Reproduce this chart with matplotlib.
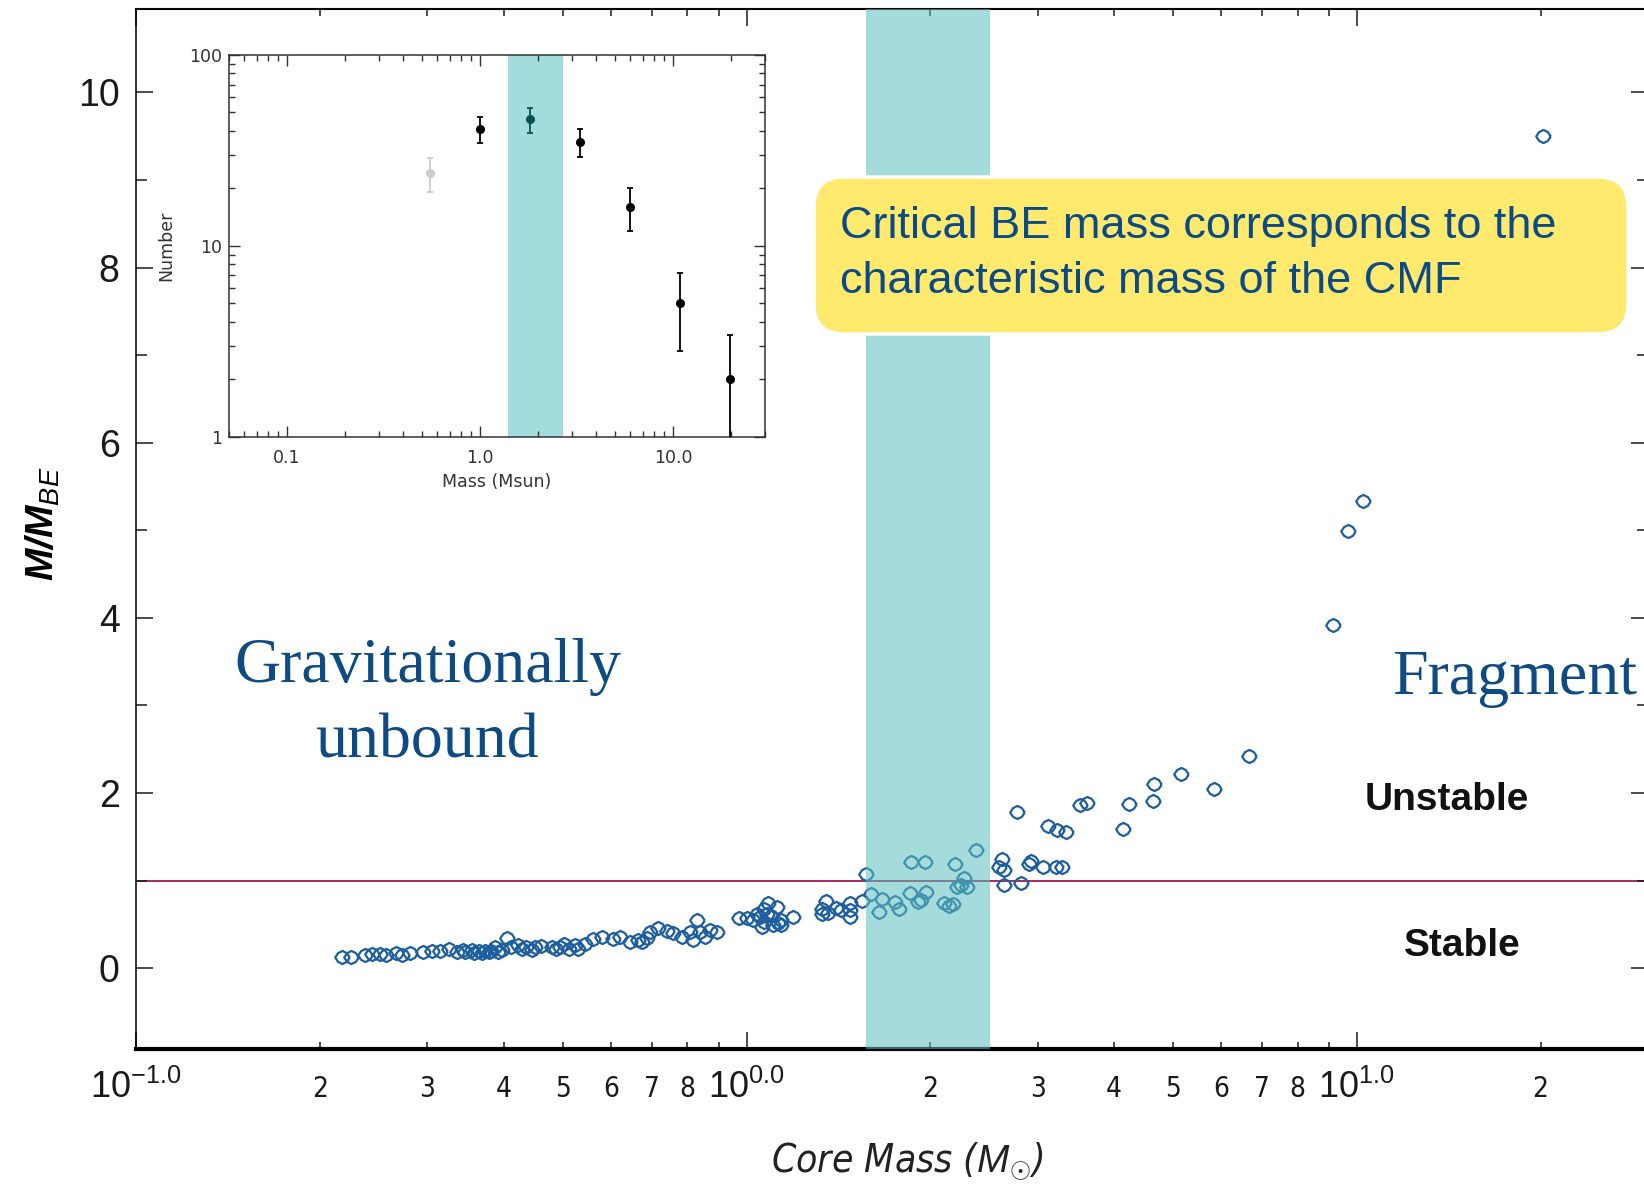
import matplotlib
matplotlib.use("Agg")
import matplotlib.pyplot as plt
from matplotlib.patches import FancyBboxPatch
from matplotlib.ticker import NullFormatter

plt.rcParams["font.family"] = "Liberation Sans"
plt.rcParams["mathtext.fontset"] = "custom"
plt.rcParams["mathtext.rm"] = "Liberation Sans"
plt.rcParams["mathtext.it"] = "Liberation Sans:italic"
plt.rcParams["mathtext.bf"] = "Liberation Sans:italic:bold"
plt.rcParams["mathtext.sf"] = "Liberation Sans:italic"

# core masses (Msun) and M/M_BE ratios
core_mass = [
    0.217, 0.225, 0.237, 0.243, 0.251, 0.257, 0.266, 0.273, 0.281, 0.295,
    0.305, 0.315, 0.325, 0.335, 0.343, 0.346, 0.355, 0.358, 0.364, 0.368,
    0.373, 0.378, 0.382, 0.387, 0.392, 0.398, 0.405, 0.412, 0.423, 0.428,
    0.436, 0.445, 0.450, 0.460, 0.480, 0.488, 0.495, 0.503, 0.511, 0.524,
    0.530, 0.544, 0.561, 0.579, 0.605, 0.620, 0.644, 0.665,
    0.673, 0.686, 0.695, 0.717, 0.740, 0.759, 0.783, 0.808, 0.818, 0.829,
    0.839, 0.855, 0.871, 0.896,
    0.973, 1.00, 1.026, 1.04, 1.052, 1.059, 1.068, 1.07, 1.079, 1.086,
    1.095, 1.106, 1.12, 1.127, 1.14, 1.14, 1.19,
    1.33, 1.33, 1.35, 1.36, 1.40, 1.43, 1.48, 1.48, 1.48, 1.545,
    1.57, 1.60, 1.65, 1.67, 1.75, 1.78, 1.85, 1.86, 1.91, 1.93,
    1.96, 1.97, 2.11, 2.15, 2.18, 2.20, 2.21, 2.25, 2.27, 2.30, 2.38,
    2.59, 2.62, 2.64, 2.64, 2.77, 2.82, 2.90, 2.93, 3.06, 3.12,
    3.21, 3.23, 3.29, 3.34, 3.52, 3.62,
    4.14, 4.24, 4.63, 4.65, 5.15, 5.83, 6.67,
    9.13, 9.67, 10.24, 20.2,
]
m_over_mbe = [
    0.13, 0.13, 0.15, 0.16, 0.16, 0.15, 0.17, 0.15, 0.17, 0.18,
    0.20, 0.20, 0.22, 0.18, 0.21, 0.18, 0.21, 0.17, 0.20, 0.17,
    0.20, 0.18, 0.20, 0.24, 0.19, 0.21, 0.34, 0.24, 0.26, 0.22,
    0.24, 0.21, 0.24, 0.25, 0.24, 0.22, 0.24, 0.27, 0.22, 0.26,
    0.22, 0.28, 0.33, 0.36, 0.33, 0.36, 0.30, 0.32,
    0.30, 0.34, 0.41, 0.46, 0.42, 0.40, 0.36, 0.41, 0.32, 0.55,
    0.41, 0.35, 0.43, 0.41,
    0.57, 0.57, 0.55, 0.62, 0.58, 0.47, 0.53, 0.68, 0.62, 0.74,
    0.60, 0.49, 0.70, 0.52, 0.55, 0.49, 0.58,
    0.67, 0.62, 0.77, 0.63, 0.69, 0.66, 0.74, 0.66, 0.58, 0.77,
    1.08, 0.85, 0.64, 0.79, 0.755, 0.68, 0.86, 1.21, 0.755, 0.78,
    1.21, 0.87, 0.74, 0.71, 0.73, 1.19, 0.93, 0.95, 1.03, 0.93, 1.35,
    1.155, 1.25, 1.125, 0.95, 1.78, 0.97, 1.19, 1.22, 1.16, 1.62,
    1.16, 1.58, 1.155, 1.55, 1.86, 1.89,
    1.59, 1.88, 1.905, 2.10, 2.22, 2.05, 2.42,
    3.92, 4.99, 5.34, 9.50,
]

# core mass function shown in the inset
cmf_mass = [0.55, 1.0, 1.81, 3.3, 6.0, 10.9, 19.8]
cmf_number = [24, 41, 46, 35, 16, 5, 2]
cmf_err = [4.9, 6.4, 6.8, 5.9, 4.0, 2.2, 1.4]
cmf_colors = ["#cdcdcd", "black", "#0b5050", "black", "black", "black", "black"]

# characteristic mass range
band_lo, band_hi = 1.57, 2.51
inset_band_lo, inset_band_hi = 1.4, 2.69

major_x = [0.1, 1, 10]
major_x_labels = [r"$10^{-1.0}$", r"$10^{0.0}$", r"$10^{1.0}$"]
minor_x = [0.2, 0.3, 0.4, 0.5, 0.6, 0.7, 0.8, 0.9,
           2, 3, 4, 5, 6, 7, 8, 9, 20]
minor_x_labels = ["2", "3", "4", "5", "6", "7", "8", "",
                  "2", "3", "4", "5", "6", "7", "8", "", "2"]

# rounded diamond used for the cores
core_marker = [(1, 0), (0.6, 0.6), (0, 0.9), (-0.6, 0.6),
               (-1, 0), (-0.6, -0.6), (0, -0.9), (0.6, -0.6), (1, 0)]

W, H = 1644, 1186
fig = plt.figure(figsize=(W / 100, H / 100), dpi=100)

ax = fig.add_axes([136.2 / W, 1 - 1048.7 / H, (1648 - 136.2) / W, (1048.7 - 9.3) / H])
ax.set_xscale("log")
ax.set_xlim(0.1, 30)
ax.set_ylim(-0.92, 10.95)

ax.axhline(1.0, color="#a8295f", lw=1.4, zorder=1.5)
ax.plot(core_mass, m_over_mbe, ls="none", marker=core_marker,
        ms=10.5, mfc="none", mec="#1d5e9e", mew=1.6, zorder=2)
ax.axvspan(band_lo, band_hi, color="#5cbfbf", alpha=0.55, lw=0, zorder=3)

ax.set_xticks(major_x)
ax.set_xticklabels(major_x_labels, fontsize=26)
ax.set_xticks(minor_x, minor=True)
ax.set_xticklabels(minor_x_labels, minor=True, fontsize=20,
                   family="DejaVu Sans", stretch="condensed")
ax.set_yticks([0, 2, 4, 6, 8, 10])
ax.set_yticks([1, 3, 5, 7, 9], minor=True)
ax.tick_params(which="both", direction="in", top=True, right=True,
               width=1.1, colors="#1a1a1a")
ax.tick_params(which="major", length=12)
ax.tick_params(which="minor", length=5)
ax.tick_params(axis="y", which="minor", length=8)
ax.tick_params(axis="y", labelsize=27, pad=12)
ax.tick_params(axis="x", which="major", pad=15)
ax.tick_params(axis="x", which="minor", pad=19)

ax.spines["bottom"].set_linewidth(3)
ax.spines["top"].set_linewidth(1.5)
ax.spines["left"].set_linewidth(1.1)
ax.spines["right"].set_linewidth(1.1)

ax.set_xlabel(r"Core Mass ($\mathit{M}_{\odot}$)", fontsize=28, style="italic",
              family="DejaVu Sans", stretch="condensed", color="#222222")
ax.xaxis.set_label_coords(0.51, -0.089)
ax.set_ylabel(r"$\mathbf{M/M}_{\mathsf{BE}}$", fontsize=28)
ax.yaxis.set_label_coords(-0.049, 0.505)

ax.text(0.30, 3.27, "Gravitationally", family="Liberation Serif", fontsize=46,
        color="#0e4a84", ha="center", va="baseline")
ax.text(0.30, 2.41, "unbound", family="Liberation Serif", fontsize=46,
        color="#0e4a84", ha="center", va="baseline")
ax.text(11.42, 3.13, "Fragment", family="Liberation Serif", fontsize=46,
        color="#0e4a84", ha="left", va="baseline", clip_on=False)
ax.text(14.05, 1.92, "Unstable", fontsize=28, fontweight="bold",
        color="#111111", ha="center", va="center")
ax.text(14.9, 0.25, "Stable", fontsize=28, fontweight="bold",
        color="#111111", ha="center", va="center")

# inset: core mass function
axi = fig.add_axes([228.8 / W, 1 - 436.7 / H, (765 - 228.8) / W, (436.7 - 55) / H])
axi.set_xscale("log")
axi.set_yscale("log")
axi.set_xlim(0.05, 30)
axi.set_ylim(1, 100)
axi.axvspan(inset_band_lo, inset_band_hi, color="#a3dcdc", lw=0, zorder=0)
for m, n, e, c in zip(cmf_mass, cmf_number, cmf_err, cmf_colors):
    axi.errorbar(m, n, yerr=e, fmt="o", color=c, ms=5.5, elinewidth=1.3,
                 capsize=2, capthick=1.3, zorder=3)
axi.set_xticks([0.1, 1, 10])
axi.set_xticklabels(["0.1", "1.0", "10.0"])
axi.set_yticks([1, 10, 100])
axi.set_yticklabels(["1", "10", "100"])
axi.xaxis.set_minor_formatter(NullFormatter())
axi.yaxis.set_minor_formatter(NullFormatter())
axi.tick_params(which="both", direction="in", top=True, right=True,
                width=1.0, colors="#333333", labelsize=12.5, labelfontfamily="DejaVu Sans")
axi.tick_params(which="major", length=8)
axi.tick_params(which="minor", length=4.5)
axi.tick_params(axis="x", pad=9)
axi.tick_params(axis="y", pad=5)
for s in axi.spines.values():
    s.set_linewidth(1.1)
    s.set_color("#333333")
axi.set_xlabel("Mass (Msun)", fontsize=12.5, family="DejaVu Sans", color="#333333", labelpad=4)
axi.set_ylabel("Number", fontsize=12.5, family="DejaVu Sans", color="#333333", labelpad=10)

# callout box, positioned in pixels
ov = fig.add_axes([0, 0, 1, 1], zorder=10)
ov.set_xlim(0, W)
ov.set_ylim(H, 0)
ov.set_axis_off()
ov.add_patch(FancyBboxPatch((814, 177), 814, 157,
                            boxstyle="round,pad=0,rounding_size=30",
                            fc="#ffea6e", ec="white", lw=2.5))
ov.text(840, 238, "Critical BE mass corresponds to the", fontsize=32.5,
        color="#0b4a86", ha="left", va="baseline")
ov.text(840, 293, "characteristic mass of the CMF", fontsize=32.5,
        color="#0b4a86", ha="left", va="baseline")

fig.savefig("out.png", dpi=100)
